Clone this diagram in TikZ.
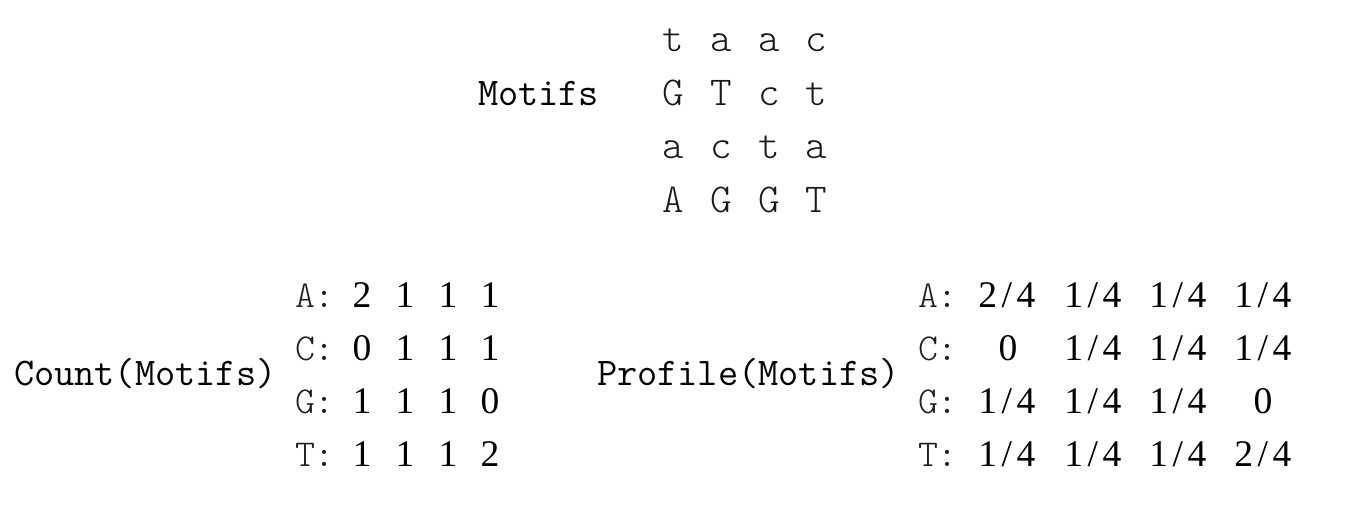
\documentclass[tikz,border=0pt]{standalone}
\usepackage{fontspec}
\newfontfamily\motiffont{Latin Modern Mono Light}
\newfontfamily\numfont{Liberation Serif}
\begin{document}
\begin{tikzpicture}[x=0.5pt,y=-0.5pt,
  every node/.style={inner sep=0pt,outer sep=0pt,text=black},
  title/.style={anchor=base west,font=\fontsize{19.6}{24}\selectfont\ttfamily},
  letter/.style={anchor=base,font=\fontsize{20.5}{24}\motiffont,text=black!90},
  rowlab/.style={anchor=base west,font=\fontsize{19}{22}\motiffont,text=black!88},
  num/.style={anchor=base,font=\fontsize{18.8}{22}\numfont}]
\path[use as bounding box,fill=white] (0,0) rectangle (1356,524);
% Motifs
\node[title] (motifs) at (478,106) {Motifs};
\node[letter] (m11) at (673,52) {t};
\node[letter] (m12) at (721,52) {a};
\node[letter] (m13) at (769,52) {a};
\node[letter] (m14) at (816,52) {c};
\node[letter] (m21) at (673,106) {G};
\node[letter] (m22) at (721,106) {T};
\node[letter] (m23) at (769,106) {c};
\node[letter] (m24) at (816,106) {t};
\node[letter] (m31) at (673,159) {a};
\node[letter] (m32) at (721,159) {c};
\node[letter] (m33) at (769,159) {t};
\node[letter] (m34) at (816,159) {a};
\node[letter] (m41) at (673,213) {A};
\node[letter] (m42) at (721,213) {G};
\node[letter] (m43) at (769,213) {G};
\node[letter] (m44) at (816,213) {T};
% Count
\node[title] (count) at (14,385) {Count(Motifs)};
\node[rowlab] (cA) at (295,307) {A:};
\node[rowlab] (cC) at (295,360) {C:};
\node[rowlab] (cG) at (295,413) {G:};
\node[rowlab] (cT) at (295,466) {T:};
\node[num] (c11) at (362,307) {2};
\node[num] (c12) at (405,307) {1};
\node[num] (c13) at (448,307) {1};
\node[num] (c14) at (490,307) {1};
\node[num] (c21) at (362,360) {0};
\node[num] (c22) at (405,360) {1};
\node[num] (c23) at (448,360) {1};
\node[num] (c24) at (490,360) {1};
\node[num] (c31) at (362,413) {1};
\node[num] (c32) at (405,413) {1};
\node[num] (c33) at (448,413) {1};
\node[num] (c34) at (490,413) {0};
\node[num] (c41) at (362,466) {1};
\node[num] (c42) at (405,466) {1};
\node[num] (c43) at (448,466) {1};
\node[num] (c44) at (490,466) {2};
% Profile
\node[title] (profile) at (597,385) {Profile(Motifs)};
\node[rowlab] (pA) at (918,307) {A:};
\node[rowlab] (pC) at (918,360) {C:};
\node[rowlab] (pG) at (918,413) {G:};
\node[rowlab] (pT) at (918,466) {T:};
\newcommand{\fr}[2]{#1\kern0.12em/\kern0.12em#2}
\node[num] (p11) at (1007,307) {\fr24};
\node[num] (p12) at (1093,307) {\fr14};
\node[num] (p13) at (1178,307) {\fr14};
\node[num] (p14) at (1263,307) {\fr14};
\node[num] (p21) at (1008,360) {0};
\node[num] (p22) at (1093,360) {\fr14};
\node[num] (p23) at (1178,360) {\fr14};
\node[num] (p24) at (1263,360) {\fr14};
\node[num] (p31) at (1007,413) {\fr14};
\node[num] (p32) at (1093,413) {\fr14};
\node[num] (p33) at (1178,413) {\fr14};
\node[num] (p34) at (1263,413) {0};
\node[num] (p41) at (1007,466) {\fr14};
\node[num] (p42) at (1093,466) {\fr14};
\node[num] (p43) at (1178,466) {\fr14};
\node[num] (p44) at (1263,466) {\fr24};
\end{tikzpicture}
\end{document}
